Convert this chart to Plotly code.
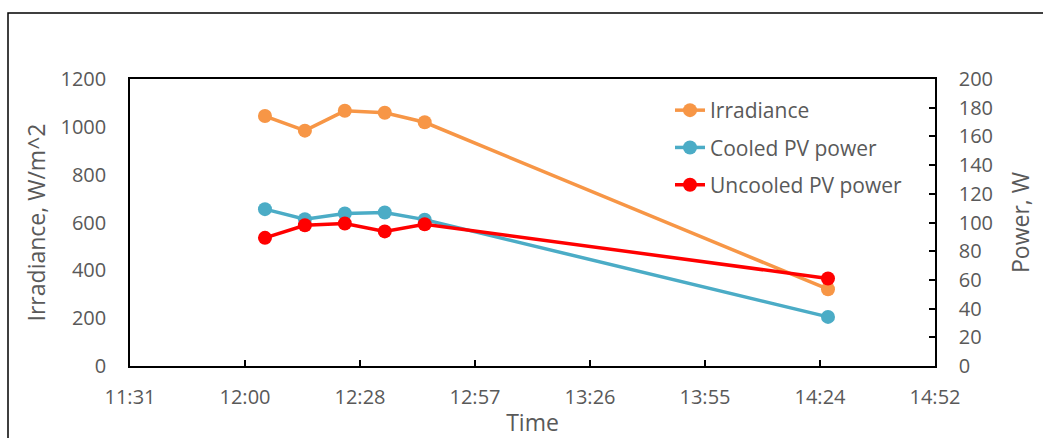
import plotly.graph_objects as go
from datetime import datetime, timedelta

# ---- data ----
times = ["12:05", "12:15", "12:25", "12:35", "12:45", "14:26"]
irradiance = [1045, 984, 1067, 1059, 1019, 321]          # W/m^2 (left axis)
cooled_power = [109.3, 102.3, 106.3, 107.0, 102.0, 34.2]  # W (right axis)
uncooled_power = [89.3, 98.1, 99.3, 93.8, 98.8, 61.0]     # W (right axis)
x_tick_labels = ["11:31", "12:00", "12:28", "12:57", "13:26", "13:55", "14:24", "14:52"]
left_ticks = [0, 200, 400, 600, 800, 1000, 1200]
right_ticks = [0, 20, 40, 60, 80, 100, 120, 140, 160, 180, 200]

day = "2000-01-01 "
xs = [datetime.strptime(day + t, "%Y-%m-%d %H:%M") for t in times]
start = datetime(2000, 1, 1) + timedelta(days=0.48)
step = timedelta(days=0.02)
tickvals = [start + k * step for k in range(len(x_tick_labels))]

W, H = 1043, 438
L, R, T, B = 130, 108, 79, 72
pw, ph = W - L - R, H - T - B

FONT = "Open Sans"
GREY = "#595959"

fig = go.Figure()
fig.add_trace(go.Scatter(x=xs, y=irradiance, name="Irradiance", mode="lines+markers",
                         line=dict(color="#F79646", width=3.5),
                         marker=dict(size=14, color="#F79646"), legendgroup="a"))
fig.add_trace(go.Scatter(x=xs, y=cooled_power, name="Cooled PV power", mode="lines+markers",
                         line=dict(color="#4BACC6", width=3.5),
                         marker=dict(size=14, color="#4BACC6"), yaxis="y2", legendgroup="b"))
fig.add_trace(go.Scatter(x=xs, y=uncooled_power, name="Uncooled PV power", mode="lines+markers",
                         line=dict(color="#FF0000", width=3.5),
                         marker=dict(size=14, color="#FF0000"), yaxis="y2", legendgroup="c"))

tick_font = dict(family=FONT, size=20, color=GREY)
title_font = dict(family=FONT, size=23, color=GREY)

fig.update_layout(
    width=W, height=H,
    margin=dict(l=L, r=R, t=T, b=B),
    paper_bgcolor="white", plot_bgcolor="white",
    font=tick_font,
    showlegend=True,
    legend=dict(x=(670 - L) / pw, y=(H - B - 90) / ph, xanchor="left", yanchor="top",
                bgcolor="rgba(0,0,0,0)", font=dict(family=FONT, size=21, color=GREY),
                tracegroupgap=7, itemwidth=30),
    xaxis=dict(range=[tickvals[0], tickvals[-1]], tickvals=tickvals, ticktext=x_tick_labels,
               showgrid=False, zeroline=False, showline=True, linecolor="black", linewidth=1.5,
               mirror=True, ticks="inside", ticklen=6, tickcolor="black", tickwidth=1.5,
               tickfont=tick_font,
               title=dict(text="Time", font=title_font, standoff=9),
               ticklabelstandoff=12, automargin=False),
    yaxis=dict(range=[0, 1200], tickvals=left_ticks, showgrid=False, zeroline=False,
               showline=True, linecolor="black", linewidth=1.5, ticks="", tickfont=tick_font,
               title=dict(text="Irradiance, W/m^2", font=title_font, standoff=8),
               ticklabelstandoff=18, automargin=False),
    yaxis2=dict(range=[0, 200], tickvals=right_ticks, overlaying="y", side="right",
                showgrid=False, zeroline=False, showline=True, linecolor="black", linewidth=1.5,
                ticks="inside", ticklen=6, tickcolor="black", tickwidth=1.5, tickfont=tick_font,
                title=dict(text="Power, W", font=title_font, standoff=21),
                ticklabelstandoff=18, automargin=False),
)

# outer chart border (extends beyond the right/bottom of the window)
fig.add_shape(type="rect", xref="paper", yref="paper",
              x0=(8 - L) / pw, x1=(W + 20 - L) / pw,
              y0=-(B + 20) / ph, y1=(H - B - 13) / ph,
              line=dict(color="black", width=1.5), fillcolor="rgba(0,0,0,0)", layer="below")

fig.write_html("out.html")
